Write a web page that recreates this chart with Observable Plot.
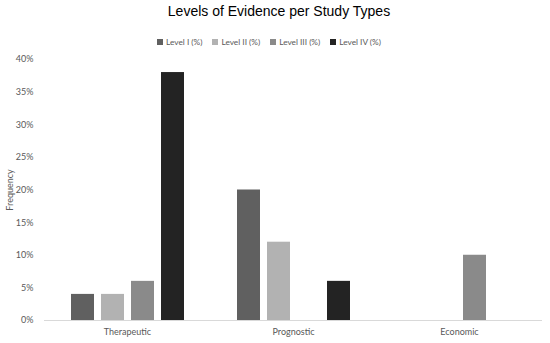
<!DOCTYPE html>
<html><head><meta charset="utf-8">
<script src="https://cdn.jsdelivr.net/npm/d3@7"></script>
<script src="https://cdn.jsdelivr.net/npm/@observablehq/plot@0.6"></script>
<style>
body{margin:0;background:#fff;}
#wrap{position:relative;width:550px;height:343px;overflow:hidden;font-family:Lato,"Open Sans",sans-serif;}
#title{position:absolute;top:3px;left:0;width:558px;text-align:center;font-family:"Liberation Sans",Arial,sans-serif;font-size:14px;color:#000;}
#legend{position:absolute;top:37px;left:0;width:538px;text-align:center;font-size:8.3px;color:#595959;}
#legend span.item{margin:0 5px;white-space:nowrap;}
#legend span.sw{display:inline-block;width:6px;height:6px;margin-right:3px;vertical-align:0px;}
#chart{position:absolute;top:50px;left:0;}
</style></head>
<body><div id="wrap"><div id="title">Levels of Evidence per Study Types</div><div id="legend"></div><div id="chart"></div></div>
<script>
const categories = ["Therapeutic", "Prognostic", "Economic"];
const levels = ["Level I (%)", "Level II (%)", "Level III (%)", "Level IV (%)"];
const levelI   = [4, 20, 0];
const levelII  = [4, 12, 0];
const levelIII = [6, 0, 10];
const levelIV  = [38, 6, 0];
const yTicks = [0, 5, 10, 15, 20, 25, 30, 35, 40];
const colors = ["#606060", "#b2b2b2", "#8a8a8a", "#232323"];

const series = [levelI, levelII, levelIII, levelIV];
const data = [];
categories.forEach((c, i) => levels.forEach((l, j) => data.push({category: c, level: l, value: series[j][i]})));

const legend = document.getElementById("legend");
levels.forEach((l, j) => {
  const s = document.createElement("span"); s.className = "item";
  s.innerHTML = `<span class="sw" style="background:${colors[j]}"></span>${l}`;
  legend.appendChild(s);
});

const chart = Plot.plot({
  width: 550, height: 293,
  marginTop: 9, marginBottom: 23, marginLeft: 43, marginRight: 7,
  style: {fontFamily: "Lato, 'Open Sans', sans-serif", fontSize: "9px", color: "#595959"},
  fx: {domain: categories, padding: 0, label: null, axis: "bottom", tickSize: 0, tickPadding: 8},
  x: {domain: levels, paddingInner: 0.25, paddingOuter: 0.86, axis: null},
  y: {domain: [0, 40], ticks: yTicks, tickFormat: d => d + "%", tickSize: 0, tickPadding: 11,
      label: "Frequency", labelAnchor: "center", labelArrow: "none", labelOffset: 38},
  color: {domain: levels, range: colors},
  marks: [
    Plot.barY(data.filter(d => d.value > 0), {fx: "category", x: "level", y: "value", fill: "level"}),
    Plot.ruleY([0], {stroke: "#d9d9d9", strokeWidth: 1})
  ]
});
document.getElementById("chart").appendChild(chart);
</script></body></html>
